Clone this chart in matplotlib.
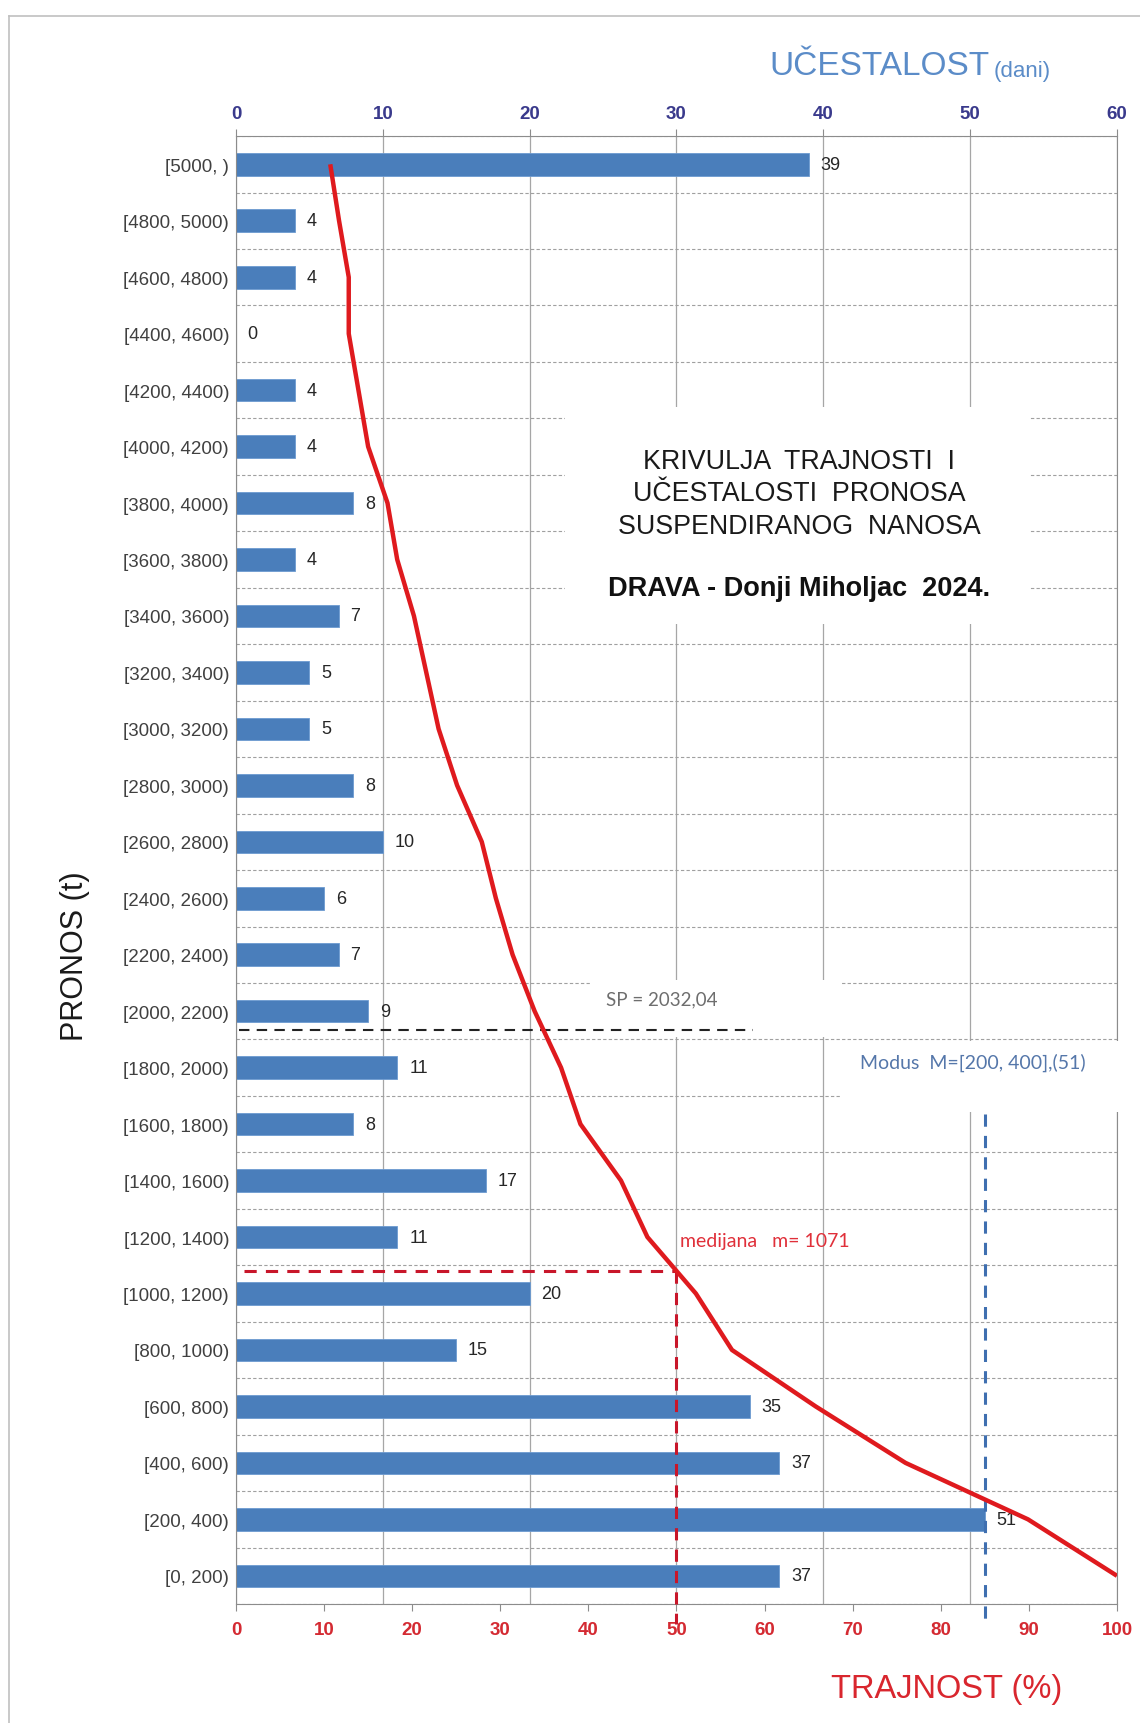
import matplotlib
matplotlib.use("Agg")
import matplotlib.pyplot as plt
from matplotlib.patches import Rectangle
from matplotlib.lines import Line2D
import numpy as np

# data
categories = [
    "[5000, )", "[4800, 5000)", "[4600, 4800)", "[4400, 4600)", "[4200, 4400)",
    "[4000, 4200)", "[3800, 4000)", "[3600, 3800)", "[3400, 3600)", "[3200, 3400)",
    "[3000, 3200)", "[2800, 3000)", "[2600, 2800)", "[2400, 2600)", "[2200, 2400)",
    "[2000, 2200)", "[1800, 2000)", "[1600, 1800)", "[1400, 1600)", "[1200, 1400)",
    "[1000, 1200)", "[800, 1000)", "[600, 800)", "[400, 600)", "[200, 400)", "[0, 200)",
]
ucestalost = [39, 4, 4, 0, 4, 4, 8, 4, 7, 5, 5, 8, 10, 6, 7, 9, 11, 8, 17, 11, 20, 15, 35, 37, 51, 37]
trajnost = [10.7, 11.7, 12.8, 12.8, 13.9, 15.0, 17.2, 18.3, 20.2, 21.6, 23.0, 25.1, 27.9,
            29.5, 31.4, 33.9, 36.9, 39.1, 43.7, 46.7, 52.2, 56.3, 65.8, 76.0, 89.9, 100.0]
dani_ticks = [0, 10, 20, 30, 40, 50, 60]
trajnost_ticks = [0, 10, 20, 30, 40, 50, 60, 70, 80, 90, 100]
sp_value = 2032.04
median_value = 1071
modus_days = 51

NARROW = ["Liberation Sans Narrow", "Liberation Sans"]
plt.rcParams["font.family"] = ["Liberation Sans", "DejaVu Sans"]

fig = plt.figure(figsize=(11.4, 17.24), dpi=100)
ax = fig.add_axes([0.2070, 0.0690, 0.7728, 0.8515])
ax2 = ax.twiny()

y = np.arange(len(categories))
ax.set_ylim(len(categories) - 0.5, -0.5)
ax.set_xlim(0, 60)
ax2.set_xlim(0, 100)

# grid
ax.set_axisbelow(True)
ax.set_xticks(dani_ticks)
ax.grid(axis="x", which="major", color="#a6a6a6", lw=0.9)
ax.set_yticks(np.arange(-0.5, len(categories), 1), minor=True)
ax.grid(axis="y", which="minor", color="#a0a0a0", lw=0.8, linestyle=(0, (3, 2)))
ax.tick_params(axis="y", which="minor", length=0)

# bars
ax.barh(y, ucestalost, height=0.4, color="#4a7ebb", edgecolor="#6d9bd1", lw=0.6, zorder=2)
for i, v in enumerate(ucestalost):
    ax.text(v + 0.8, i, str(v), va="center", ha="left", fontsize=13, color="#262626", zorder=4)

# white boxes behind annotations
boxes = [(22.4, 4.29, 54.1, 8.15), (24.2, 14.45, 41.3, 15.45), (41.3, 15.53, 61.5, 16.78)]
for x0, y0, x1, y1 in boxes:
    ax.add_patch(Rectangle((x0, y0), x1 - x0, y1 - y0, facecolor="white", edgecolor="none",
                           zorder=3, clip_on=False))

# title block
title_lines = ["KRIVULJA  TRAJNOSTI  I", "UČESTALOSTI  PRONOSA", "SUSPENDIRANOG  NANOSA"]
for line, ypos in zip(title_lines, [5.26, 5.83, 6.41]):
    ax.text(38.35, ypos, line, ha="center", va="center", fontsize=19.3, color="#1a1a1a", zorder=4)
ax.text(38.35, 7.5, "DRAVA - Donji Miholjac  2024.", ha="center", va="center",
        fontsize=19.5, fontweight="bold", color="#111111", zorder=4)

# SP line
sp_pos = (5100 - sp_value) / 200
ax.plot([0.2, 35.2], [sp_pos, sp_pos], color="#222222", lw=1.5, linestyle=(0, (5, 3.5)), zorder=4)
ax.text(25.2, 14.78, "SP = 2032,04", ha="left", va="center", fontsize=13.5,
        family=["Lato", "DejaVu Sans"], color="#6e6e6e", zorder=4)

# modus line
ax.plot([modus_days, modus_days], [16.82, 25.85], color="#3f6fb0", lw=2.2,
        linestyle=(0, (4, 3)), clip_on=False, zorder=4)
ax.text(42.5, 15.9, "Modus  M=[200, 400],(51)", ha="left", va="center", fontsize=14,
        family=["Lato", "DejaVu Sans"], color="#5577aa", zorder=4)

# duration curve
ax2.plot(trajnost, y, color="#df1a1e", lw=3.2, zorder=5, solid_capstyle="butt")

# median lines
med_pos = np.interp(50, trajnost, y)
ax2.plot([0.9, 50], [med_pos, med_pos], color="#c8162a", lw=2.2, linestyle=(0, (4, 3)), zorder=4)
ax2.plot([50, 50], [med_pos, 25.85], color="#c8162a", lw=2.2, linestyle=(0, (4, 3)),
         clip_on=False, zorder=4)
ax2.text(50.4, 19.06, "medijana   m= " + str(median_value), ha="left", va="center", fontsize=14,
         family=["Lato", "DejaVu Sans"], color="#e0303a", zorder=4)

# axes: top (dani), bottom (%)
ax.set_yticks(y, labels=categories, fontsize=13.5, color="#404040")
ax.tick_params(axis="y", which="major", length=0, pad=5)
ax.xaxis.set_ticks_position("top")
ax.set_xticks(dani_ticks, labels=[str(t) for t in dani_ticks], fontsize=13.5,
              family=NARROW, fontweight="bold", color="#3a3a8c")
ax.tick_params(axis="x", length=5, pad=5, color="#8c8c8c")

ax2.xaxis.set_ticks_position("bottom")
ax2.set_xticks(trajnost_ticks, labels=[str(t) for t in trajnost_ticks], fontsize=13.5,
               family=NARROW, fontweight="bold", color="#d42a32")
ax2.tick_params(axis="x", length=5, pad=7, color="#8c8c8c")

for s in ["top", "left", "right"]:
    ax.spines[s].set_color("#8c8c8c")
ax.spines["bottom"].set_visible(False)
for s in ["top", "left", "right"]:
    ax2.spines[s].set_visible(False)
ax2.spines["bottom"].set_color("#8c8c8c")

# axis titles
t1 = fig.text(0.675, 0.9566, "UČESTALOST", ha="left", va="baseline", fontsize=24,
              family=NARROW, color="#5b8cc8")
ax.annotate("(dani)", xy=(1, 0), xycoords=t1, xytext=(3, 0), textcoords="offset points",
            ha="left", va="bottom", fontsize=16, family=NARROW, color="#5b8cc8",
            annotation_clip=False)
fig.text(0.830, 0.0199, "TRAJNOST (%)", ha="center", va="center", fontsize=23.5,
         family=NARROW, color="#d9262e")
fig.text(0.0656, 0.4454, "PRONOS (t)", ha="center", va="center", rotation=90,
         fontsize=22, color="#1a1a1a")

# sheet border
fig.add_artist(Line2D([0.0079, 0.0079], [0, 0.9904], color="#c0c0c0", lw=1.2))
fig.add_artist(Line2D([0.0079, 1], [0.9904, 0.9904], color="#c0c0c0", lw=1.2))

fig.savefig("out.png", dpi=100)
